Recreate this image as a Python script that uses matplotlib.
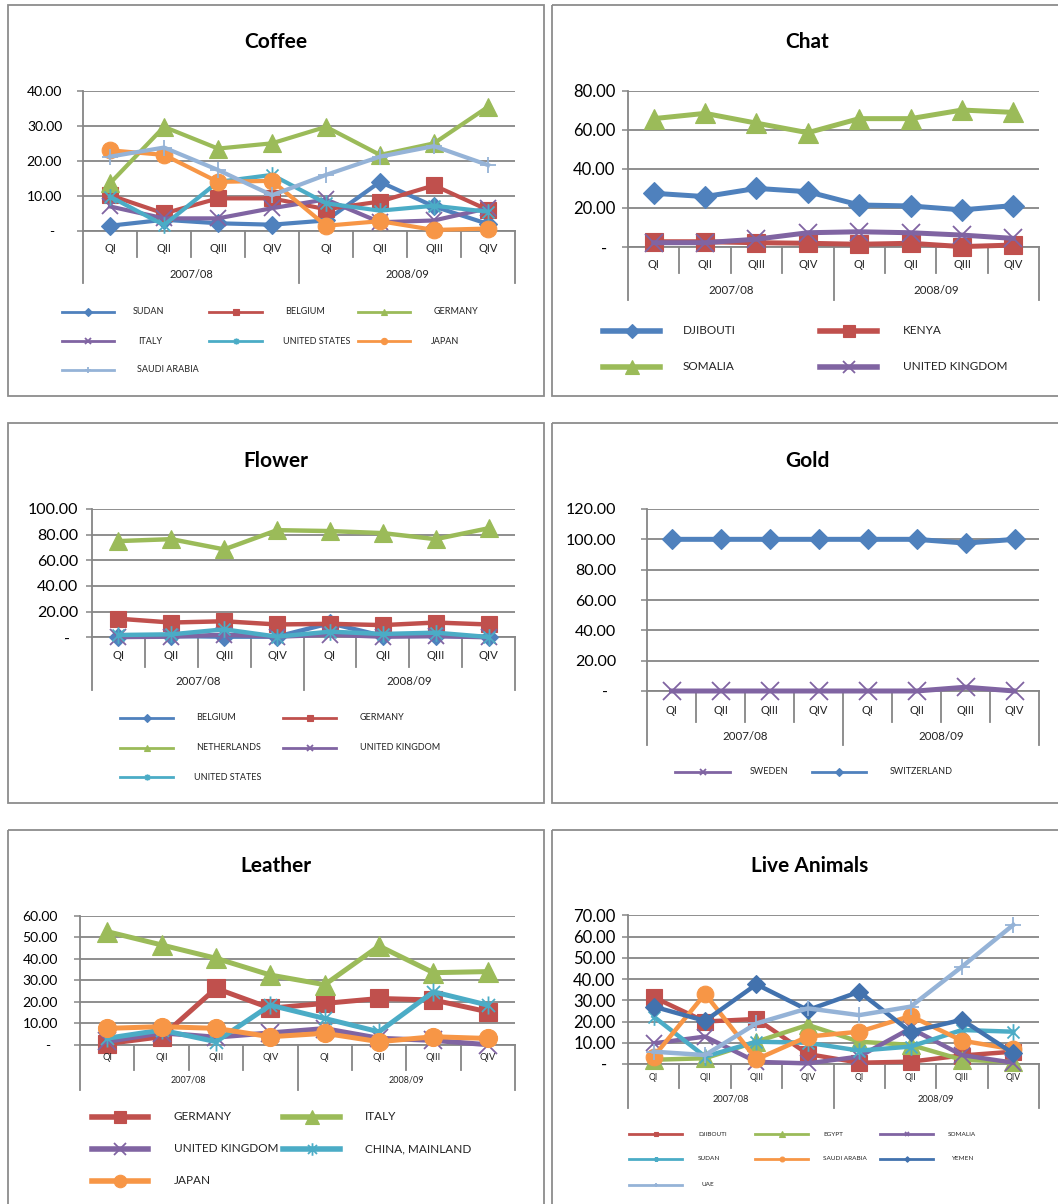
import numpy as np
import matplotlib
matplotlib.use("Agg")
import matplotlib.pyplot as plt
from matplotlib.lines import Line2D
from matplotlib.patches import Rectangle
from matplotlib.path import Path
from matplotlib.transforms import Affine2D

plt.rcParams["font.family"] = ["Lato", "DejaVu Sans"]

# ---------------------------------------------------------------- data
quarters = ["QI", "QII", "QIII", "QIV", "QI", "QII", "QIII", "QIV"]
years = ["2007/08", "2008/09"]

coffee_sudan = [1.5, 3.2, 2.2, 1.8, 3.0, 14.0, 7.0, 2.0]
coffee_belgium = [10.2, 5.0, 9.3, 9.3, 6.2, 8.4, 13.0, 6.0]
coffee_germany = [13.6, 29.7, 23.5, 25.0, 29.7, 21.7, 25.0, 35.4]
coffee_italy = [7.0, 3.6, 3.6, 6.5, 9.0, 2.5, 3.0, 6.5]
coffee_us = [9.8, 1.7, 14.0, 16.0, 7.9, 5.8, 7.2, 5.5]
coffee_japan = [23.0, 21.7, 14.0, 14.3, 1.5, 2.8, 0.3, 0.7]
coffee_saudi = [21.2, 23.8, 17.4, 10.2, 16.0, 21.2, 24.2, 18.8]

chat_djibouti = [27.5, 25.8, 30.0, 28.3, 21.5, 21.0, 19.0, 21.2]
chat_kenya = [2.7, 2.7, 2.2, 1.9, 1.4, 1.9, 0.2, 1.0]
chat_somalia = [65.7, 68.4, 63.4, 58.5, 65.7, 65.7, 70.1, 68.9]
chat_uk = [2.2, 2.2, 4.0, 7.3, 7.8, 7.3, 6.1, 4.4]

flower_belgium = [0.5, 1.0, 0.5, 0.5, 11.0, 1.0, 1.0, 0.3]
flower_germany = [14.5, 11.5, 12.5, 10.0, 10.5, 9.5, 11.5, 10.0]
flower_netherlands = [75.0, 76.5, 68.5, 83.5, 82.8, 81.2, 76.5, 85.0]
flower_uk = [0.2, 0.5, 2.0, 0.5, 2.0, 0.5, 1.0, 0.0]
flower_us = [1.8, 2.3, 6.2, 0.5, 4.4, 2.6, 3.6, 0.2]

gold_sweden = [0.0, 0.0, 0.0, 0.0, 0.0, 0.0, 2.5, 0.0]
gold_switzerland = [100.0, 100.0, 100.0, 100.0, 100.0, 100.0, 97.5, 100.0]

leather_germany = [0.5, 3.7, 26.2, 17.0, 19.2, 21.5, 20.8, 15.3]
leather_italy = [52.6, 46.4, 40.2, 32.4, 27.9, 45.9, 33.5, 34.0]
leather_uk = [1.5, 5.5, 3.5, 5.5, 7.5, 3.0, 2.0, 0.0]
leather_china = [3.0, 6.8, 1.4, 18.4, 12.2, 6.0, 24.6, 18.4]
leather_japan = [7.6, 8.4, 7.6, 3.7, 5.3, 1.4, 3.7, 2.9]

live_djibouti = [31.4, 20.0, 21.2, 4.7, 0.6, 1.1, 4.0, 5.8]
live_egypt = [2.0, 2.7, 10.5, 18.4, 10.5, 9.0, 2.0, 1.0]
live_somalia = [9.7, 12.9, 1.0, 0.3, 3.5, 16.8, 4.2, 0.6]
live_sudan = [22.3, 3.5, 10.5, 10.0, 6.3, 8.2, 16.0, 15.2]
live_saudi = [3.5, 33.0, 2.2, 12.9, 15.2, 22.6, 11.0, 6.9]
live_yemen = [27.0, 20.3, 37.5, 25.4, 34.0, 15.2, 20.8, 5.0]
live_uae = [5.8, 4.2, 19.1, 26.2, 23.0, 27.0, 45.8, 65.5]

# ---------------------------------------------------------------- style
BLUE = "#4F81BD"
RED = "#C0504D"
GREEN = "#9BBB59"
PURPLE = "#8064A2"
AQUA = "#4BACC6"
ORANGE = "#F79646"
LIGHT = "#95B3D7"
DARKBLUE = "#4272AE"
GRID = "#868686"
FRAME = "#8C8C8C"

STAR = Path([(0, -1), (0, 1), (-0.72, -0.72), (0.72, 0.72), (-0.72, 0.72), (0.72, -0.72)],
            [Path.MOVETO, Path.LINETO, Path.MOVETO, Path.LINETO, Path.MOVETO, Path.LINETO])

W, H = 1058, 1204
fig = plt.figure(figsize=(W / 100, H / 100), dpi=100)
pix = Affine2D().scale(1 / W, -1 / H).translate(0, 1) + fig.transFigure


def marker_kw(marker, color, ms):
    if marker in ("x", "+", "star"):
        m = STAR if marker == "star" else marker
        return dict(marker=m, markersize=ms, markeredgecolor=color,
                    markerfacecolor="none", markeredgewidth=1.3)
    return dict(marker=marker, markersize=ms, markeredgecolor=color,
                markerfacecolor=color, markeredgewidth=0.8)


def scale_ms(marker, ms):
    if marker == "D":
        return ms * 0.8
    if marker == "^":
        return ms * 1.1
    return ms


def panel_frame(x0, y0, x1, y1):
    fig.add_artist(Rectangle((x0, y0), x1 - x0, y1 - y0, transform=pix,
                             fill=False, ec=FRAME, lw=1.3))


def chart(g, title, tx, ty, series, ymax, step, lw, ms, tick_fs, tick_pad,
          q_fs, y_fs):
    left, right, top, zero = g["left"], g["right"], g["top"], g["zero"]
    ax = fig.add_axes([left / W, 1 - zero / H, (right - left) / W, (zero - top) / H])
    ax.set_xlim(-0.5, 7.5)
    ax.set_ylim(0, ymax)
    ticks = np.arange(0, ymax + step / 2, step)
    ax.set_yticks(ticks)
    ax.set_yticklabels(["-  " if t == 0 else f"{t:.2f}" for t in ticks],
                       fontsize=tick_fs)
    ax.tick_params(axis="y", length=4, width=1.1, color=GRID, pad=tick_pad)
    ax.set_xticks([])
    ax.yaxis.grid(True, color=GRID, lw=1.3)
    ax.set_axisbelow(True)
    for s in ("top", "right"):
        ax.spines[s].set_visible(False)
    for s in ("left", "bottom"):
        ax.spines[s].set_color(GRID)
        ax.spines[s].set_linewidth(1.3)

    xs = np.arange(len(quarters))
    for name, vals, color, marker in series:
        ax.plot(xs, vals, color=color, lw=lw, clip_on=False, zorder=3,
                solid_joinstyle="round",
                **marker_kw(marker, color, scale_ms(marker, ms)))

    # two-level category axis drawn below the plot
    tr = ax.get_xaxis_transform()
    frac = lambda y: (zero - y) / (zero - top)
    for b in np.arange(-0.5, 8.0, 1.0):
        long_line = b in (-0.5, 3.5, 7.5)
        yb = g["bottom"] if long_line else g["sep"]
        ax.plot([b, b], [0, frac(yb)], transform=tr, color=GRID, lw=1.3,
                clip_on=False, zorder=2)
    for i, q in enumerate(quarters):
        ax.text(i, frac(g["qy"]), q, transform=tr, ha="center", va="center",
                fontsize=q_fs, color="#222222")
    for j, yr in enumerate(years):
        ax.text(1.5 + 4 * j, frac(g["yy"]), yr, transform=tr, ha="center",
                va="center", fontsize=y_fs, color="#222222")
    fig.text(tx, ty, title, transform=pix, ha="center", va="center",
             fontsize=15, fontweight="bold")
    return ax


def legend(entries, lw, ms, fs):
    for (x0, x1, y, lx, text, color, marker) in entries:
        fig.add_artist(Line2D([x0, x1], [y, y], transform=pix, color=color, lw=lw))
        fig.add_artist(Line2D([(x0 + x1) / 2], [y], transform=pix, color=color,
                              lw=0, **marker_kw(marker, color, scale_ms(marker, ms))))
        fig.text(lx, y, text, transform=pix, ha="left", va="center",
                 fontsize=fs, color="#222222")


# ---------------------------------------------------------------- frames
panel_frame(7.5, 5, 544, 396)
panel_frame(552, 5, 1060, 396)
panel_frame(7.5, 423, 544, 803)
panel_frame(552, 423, 1060, 803)
panel_frame(7.5, 830, 544, 1210)
panel_frame(552, 830, 1060, 1210)

# ---------------------------------------------------------------- Coffee
chart(dict(left=83, right=515, top=90.7, zero=231, qy=248, sep=257, yy=275, bottom=283),
      "Coffee", 276, 42,
      [("SUDAN", coffee_sudan, BLUE, "D"),
       ("BELGIUM", coffee_belgium, RED, "s"),
       ("GERMANY", coffee_germany, GREEN, "^"),
       ("ITALY", coffee_italy, PURPLE, "x"),
       ("UNITED STATES", coffee_us, AQUA, "star"),
       ("JAPAN", coffee_japan, ORANGE, "o"),
       ("SAUDI ARABIA", coffee_saudi, LIGHT, "+")],
      40, 10, lw=3.0, ms=12, tick_fs=10, tick_pad=11, q_fs=8, y_fs=8)
legend([(62, 114, 312, 133, "SUDAN", BLUE, "D"),
        (209, 262, 312, 285, "BELGIUM", RED, "s"),
        (358, 410, 312, 434, "GERMANY", GREEN, "^"),
        (62, 114, 341, 138, "ITALY", PURPLE, "x"),
        (209, 262, 341, 283, "UNITED STATES", AQUA, "star"),
        (358, 410, 341, 431, "JAPAN", ORANGE, "o"),
        (62, 114, 370, 137, "SAUDI ARABIA", LIGHT, "+")],
       lw=2.0, ms=4.5, fs=6.5)

# ---------------------------------------------------------------- Chat
chart(dict(left=628, right=1039, top=90.7, zero=247, qy=264, sep=273, yy=291, bottom=300),
      "Chat", 807, 42,
      [("DJIBOUTI", chat_djibouti, BLUE, "D"),
       ("KENYA", chat_kenya, RED, "s"),
       ("SOMALIA", chat_somalia, GREEN, "^"),
       ("UNITED KINGDOM", chat_uk, PURPLE, "x")],
      80, 20, lw=3.6, ms=13.5, tick_fs=12, tick_pad=5, q_fs=8, y_fs=8.3)
legend([(603, 660, 331, 683, "DJIBOUTI", BLUE, "D"),
        (820, 877, 331, 903, "KENYA", RED, "s"),
        (603, 660, 367, 683, "SOMALIA", GREEN, "^"),
        (820, 877, 367, 903, "UNITED KINGDOM", PURPLE, "x")],
       lw=4.0, ms=9, fs=8.5)

# ---------------------------------------------------------------- Flower
chart(dict(left=92, right=515, top=509, zero=637.3, qy=655, sep=667, yy=681, bottom=690),
      "Flower", 276, 461,
      [("BELGIUM", flower_belgium, BLUE, "D"),
       ("GERMANY", flower_germany, RED, "s"),
       ("NETHERLANDS", flower_netherlands, GREEN, "^"),
       ("UNITED KINGDOM", flower_uk, PURPLE, "x"),
       ("UNITED STATES", flower_us, AQUA, "star")],
      100, 20, lw=3.2, ms=12, tick_fs=11.5, tick_pad=6, q_fs=8.2, y_fs=8.3)
legend([(120, 173, 718, 196, "BELGIUM", BLUE, "D"),
        (283, 336, 718, 360, "GERMANY", RED, "s"),
        (120, 173, 748, 196, "NETHERLANDS", GREEN, "^"),
        (283, 336, 748, 360, "UNITED KINGDOM", PURPLE, "x"),
        (120, 173, 777, 194, "UNITED STATES", AQUA, "star")],
       lw=2.0, ms=4.5, fs=6.5)

# ---------------------------------------------------------------- Gold
chart(dict(left=647, right=1039, top=509, zero=691, qy=710, sep=722, yy=737, bottom=745),
      "Gold", 807, 461,
      [("SWITZERLAND", gold_switzerland, BLUE, "D"),
       ("SWEDEN", gold_sweden, PURPLE, "x")],
      120, 20, lw=3.6, ms=13, tick_fs=11.5, tick_pad=18, q_fs=8, y_fs=8.3)
legend([(675, 730, 772, 750, "SWEDEN", PURPLE, "x"),
        (812, 866, 772, 890, "SWITZERLAND", BLUE, "D")],
       lw=2.0, ms=4.5, fs=6.5)

# ---------------------------------------------------------------- Leather
chart(dict(left=80, right=515, top=915.7, zero=1044.7, qy=1058, sep=1070, yy=1080, bottom=1090),
      "Leather", 276, 866,
      [("GERMANY", leather_germany, RED, "s"),
       ("ITALY", leather_italy, GREEN, "^"),
       ("UNITED KINGDOM", leather_uk, PURPLE, "x"),
       ("CHINA, MAINLAND", leather_china, AQUA, "star"),
       ("JAPAN", leather_japan, ORANGE, "o")],
      60, 10, lw=3.6, ms=13, tick_fs=10, tick_pad=12, q_fs=6.7, y_fs=6.5)
legend([(92, 148, 1117, 174, "GERMANY", RED, "s"),
        (283, 340, 1117, 365, "ITALY", GREEN, "^"),
        (92, 148, 1149, 174, "UNITED KINGDOM", PURPLE, "x"),
        (283, 340, 1149, 365, "CHINA, MAINLAND", AQUA, "star"),
        (92, 148, 1181, 174, "JAPAN", ORANGE, "o")],
       lw=4.0, ms=9, fs=8.5)

# ---------------------------------------------------------------- Live Animals
chart(dict(left=628, right=1039, top=915.3, zero=1064, qy=1078, sep=1088, yy=1099, bottom=1108),
      "Live Animals", 810, 866,
      [("DJIBOUTI", live_djibouti, RED, "s"),
       ("EGYPT", live_egypt, GREEN, "^"),
       ("SOMALIA", live_somalia, PURPLE, "x"),
       ("SUDAN", live_sudan, AQUA, "star"),
       ("SAUDI ARABIA", live_saudi, ORANGE, "o"),
       ("YEMEN", live_yemen, DARKBLUE, "D"),
       ("UAE", live_uae, LIGHT, "+")],
      70, 10, lw=3.2, ms=12, tick_fs=12, tick_pad=5, q_fs=6.2, y_fs=6.7)
legend([(629, 682, 1134, 698, "DJIBOUTI", RED, "s"),
        (755, 808, 1134, 823, "EGYPT", GREEN, "^"),
        (880, 933, 1134, 948, "SOMALIA", PURPLE, "x"),
        (629, 682, 1159, 698, "SUDAN", AQUA, "star"),
        (755, 808, 1159, 823, "SAUDI ARABIA", ORANGE, "o"),
        (880, 933, 1159, 951, "YEMEN", DARKBLUE, "D"),
        (629, 682, 1185, 701, "UAE", LIGHT, "+")],
       lw=2.0, ms=3.5, fs=4.6)

fig.savefig("out.png", dpi=100)
